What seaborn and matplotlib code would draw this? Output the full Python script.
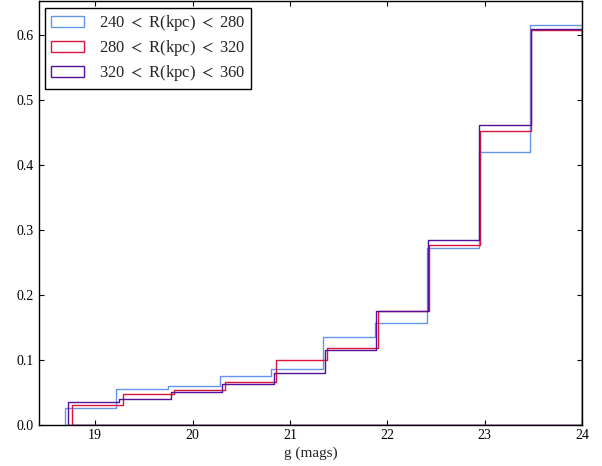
import numpy as np
import matplotlib
matplotlib.use('Agg')
import matplotlib.pyplot as plt
import seaborn as sns

# bin edges (g mags) and cumulative fractions
edges_240 = [18.685, 19.217, 19.748, 20.280, 20.810, 21.343, 21.874, 22.405, 22.937, 23.468, 24.0]
frac_240 = [0.026, 0.055, 0.060, 0.074, 0.086, 0.135, 0.156, 0.272, 0.420, 0.615]

edges_280 = [18.761, 19.285, 19.809, 20.333, 20.857, 21.381, 21.904, 22.428, 22.952, 23.476, 24.0]
frac_280 = [0.030, 0.047, 0.053, 0.065, 0.099, 0.118, 0.175, 0.277, 0.452, 0.608]

edges_320 = [18.720, 19.248, 19.776, 20.304, 20.832, 21.360, 21.888, 22.416, 22.944, 23.472, 24.0]
frac_320 = [0.034, 0.040, 0.050, 0.063, 0.079, 0.115, 0.174, 0.284, 0.461, 0.609]

labels = [r'240 $<$ R(kpc) $<$ 280', r'280 $<$ R(kpc) $<$ 320', r'320 $<$ R(kpc) $<$ 360']
colors = ['#6495ed', '#dc143c', '#55109a']

sns.set_style('ticks')
plt.rcParams['font.family'] = ['Liberation Serif', 'DejaVu Serif']
plt.rcParams['mathtext.fontset'] = 'stix'
plt.rcParams['xtick.direction'] = 'in'
plt.rcParams['ytick.direction'] = 'in'
plt.rcParams['xtick.top'] = True
plt.rcParams['ytick.right'] = True
plt.rcParams['xtick.major.size'] = 3.5
plt.rcParams['ytick.major.size'] = 3.5
plt.rcParams['axes.edgecolor'] = 'black'
plt.rcParams['axes.linewidth'] = 1.0

fig, ax = plt.subplots(figsize=(6.02, 4.66), dpi=100)
fig.subplots_adjust(left=0.064, right=0.967, bottom=0.089, top=0.998)

series = [(edges_240, frac_240), (edges_280, frac_280), (edges_320, frac_320)]
for (edges, frac), lab, col in zip(series, labels, colors):
    sns.histplot(x=edges[:-1], weights=frac, bins=edges, element='step', fill=True,
                 color=col, facecolor='none', linewidth=1.0, label=lab, ax=ax)

ax.set_xlim(18.418, 24)
ax.set_ylim(0, 0.652)
ax.set_xticks([19, 20, 21, 22, 23, 24])
ax.set_yticks(np.arange(0, 0.61, 0.1))
ax.set_xlabel('g (mags)', fontsize=11, labelpad=3)
ax.set_ylabel('')
ax.tick_params(labelsize=10, colors='black')

leg = ax.legend(loc='upper left', fontsize=12, fancybox=False, framealpha=1,
                labelspacing=0.3, borderpad=0.35, handletextpad=0.85, borderaxespad=0.4)
leg.get_frame().set_edgecolor('black')
leg.get_frame().set_linewidth(1.0)

plt.savefig('out.png', dpi=100)
